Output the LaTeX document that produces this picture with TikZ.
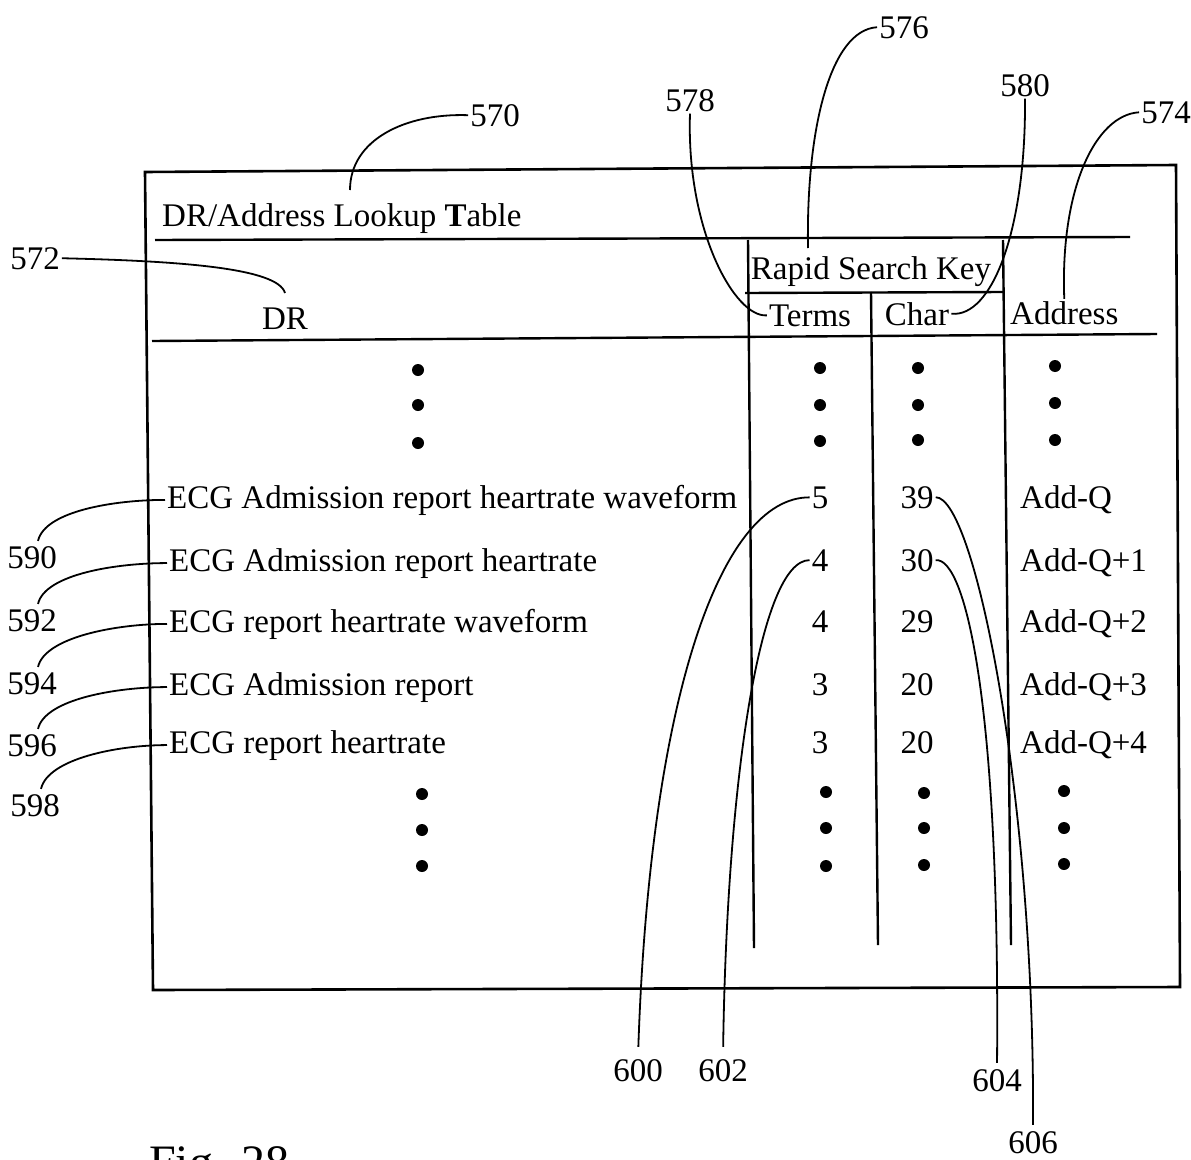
\documentclass[tikz,border=0pt]{standalone}
\usepackage{fontspec}
\setmainfont{Liberation Serif}
\usetikzlibrary{calc}
\begin{document}
\begin{tikzpicture}[x=1pt,y=-1pt,
  txt/.style={font=\fontsize{33}{40}\selectfont, inner sep=2pt},
  frame/.style={line width=2.6pt, line join=miter},
  rule/.style={line width=2.4pt},
  lead/.style={line width=1.8pt},
  dot/.style={circle, fill=black, inner sep=0pt, minimum size=12pt}]
\useasboundingbox (0,0) rectangle (1191,1159);
\clip (0,0) rectangle (1191,1159);

% outer frame and rules
\draw[frame] (145,172) -- (1176,165) -- (1180,987) -- (153,990) -- cycle;
\draw[rule] (155,240) -- (1130,237);
\draw[rule] (152,341) -- (1157,334);
\draw[rule] (745,293) -- (1003,292);
\draw[rule] (748,240) -- (754,948);
\draw[rule] (871,292) -- (878,945);
\draw[rule] (1003,240) -- (1011,945);

% headings
\node[txt,anchor=base west] (title) at (160,226) {DR/Address Lookup \textbf{T}able};
\node[txt,anchor=base] (DR) at (285,329) {DR};
\node[txt,anchor=base] (RSK) at (871,279) {Rapid Search Key};
\node[txt,anchor=base] (Terms) at (810,326) {Terms};
\node[txt,anchor=base] (Char) at (917,325) {Char};
\node[txt,anchor=base west] (Address) at (1008,324) {Address};

% rows
\node[txt,anchor=base west] (r1) at (165,508) {ECG Admission report heartrate waveform};
\node[txt,anchor=base west] (r2) at (167,571) {ECG Admission report heartrate};
\node[txt,anchor=base west] (r3) at (167,632) {ECG report heartrate waveform};
\node[txt,anchor=base west] (r4) at (167,695) {ECG Admission report};
\node[txt,anchor=base west] (r5) at (167,753) {ECG report heartrate};

\node[txt,anchor=base] (t1) at (820,508) {5};
\node[txt,anchor=base] (t2) at (820,571) {4};
\node[txt,anchor=base] (t3) at (820,632) {4};
\node[txt,anchor=base] (t4) at (820,695) {3};
\node[txt,anchor=base] (t5) at (820,753) {3};

\node[txt,anchor=base] (c1) at (917,508) {39};
\node[txt,anchor=base] (c2) at (917,571) {30};
\node[txt,anchor=base] (c3) at (917,632) {29};
\node[txt,anchor=base] (c4) at (917,695) {20};
\node[txt,anchor=base] (c5) at (917,753) {20};

\node[txt,anchor=base west] (a1) at (1018,508) {Add-Q};
\node[txt,anchor=base west] (a2) at (1018,571) {Add-Q+1};
\node[txt,anchor=base west] (a3) at (1018,632) {Add-Q+2};
\node[txt,anchor=base west] (a4) at (1018,695) {Add-Q+3};
\node[txt,anchor=base west] (a5) at (1018,753) {Add-Q+4};

% ellipsis dots
\foreach \x/\y [count=\i] in {418/370,418/405,418/443,820/368,820/405,820/441,918/368,918/405,918/440,1055/366,1055/403,1055/440,
  422/794,422/830,422/866,826/792,826/828,826/866,924/793,924/828,924/865,1064/791,1064/828,1064/864}
  \node[dot] (d\i) at (\x,\y) {};

% reference labels
\node[txt,anchor=base] (l570) at (495,126) {570};
\node[txt,anchor=base] (l572) at (35,269) {572};
\node[txt,anchor=base] (l576) at (904,38) {576};
\node[txt,anchor=base] (l578) at (690,111) {578};
\node[txt,anchor=base] (l580) at (1025,96) {580};
\node[txt,anchor=base] (l574) at (1166,123) {574};
\node[txt,anchor=base] (l590) at (32,568) {590};
\node[txt,anchor=base] (l592) at (32,631) {592};
\node[txt,anchor=base] (l594) at (32,694) {594};
\node[txt,anchor=base] (l596) at (32,756) {596};
\node[txt,anchor=base] (l598) at (35,816) {598};
\node[txt,anchor=base] (l600) at (638,1081) {600};
\node[txt,anchor=base] (l602) at (723,1081) {602};
\node[txt,anchor=base] (l604) at (997,1091) {604};
\node[txt,anchor=base] (l606) at (1033,1153) {606};
\node[font=\fontsize{48}{56}\selectfont,inner sep=2pt,anchor=base west] (fig) at (147,1178) {Fig. 28};

% free ends of leaders
\coordinate (p570) at (350,190);
\coordinate (p572) at (285,293);
\coordinate (p576) at (808,248);

% leaders
\draw[lead] (l570.west) .. controls (405,113) and (350,140) .. (p570);
\draw[lead] (l572.east) .. controls (180,261) and (278,268) .. (p572);
\draw[lead] (l576.west) .. controls (830,30) and (806,130) .. (p576);
\draw[lead] (l578.south) .. controls (686,230) and (735,318) .. (Terms.west);
\draw[lead] (l580.south) .. controls (1026,230) and (992,318) .. (Char.east);
\draw[lead] (l574.west) .. controls (1095,115) and (1060,190) .. (Address.north);

\draw[lead] ($(l590.north)+(6,-3)$) .. controls +(7,-30) and +(-50,0) .. (r1.west);
\draw[lead] ($(l592.north)+(6,-3)$) .. controls +(7,-30) and +(-50,0) .. (r2.west);
\draw[lead] ($(l594.north)+(6,-3)$) .. controls +(7,-30) and +(-50,0) .. (r3.west);
\draw[lead] ($(l596.north)+(6,-3)$) .. controls +(7,-30) and +(-50,0) .. (r4.west);
\draw[lead] ($(l598.north)+(6,-3)$) .. controls +(7,-30) and +(-50,0) .. (r5.west);

\draw[lead,shorten <=10pt] (l600.north) .. controls (650,700) and (720,497) .. (t1.west);
\draw[lead,shorten <=10pt] (l602.north) .. controls (727,780) and (760,560) .. (t2.west);
\draw[lead,shorten <=4pt] (l604.north) .. controls (1000,700) and (965,557) .. (c2.east);
\draw[lead,shorten <=4pt] (l606.north) .. controls (1035,800) and (975,497) .. (c1.east);
\end{tikzpicture}
\end{document}
